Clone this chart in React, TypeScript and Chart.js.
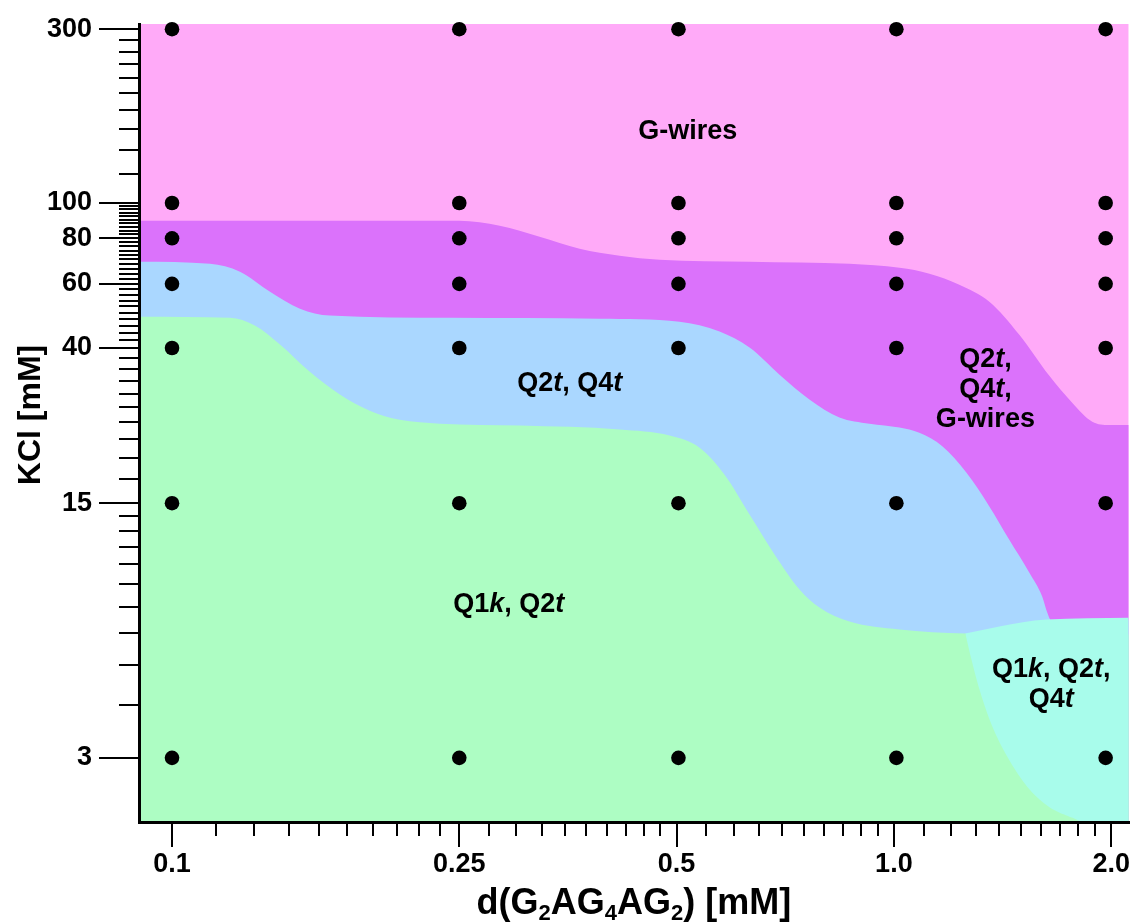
import React, { useEffect, useRef } from 'react';
import { Chart, registerables } from 'chart.js';

Chart.register(...registerables);

const FONT = '"Liberation Sans", Arial, Helvetica, sans-serif';

// ---- axes ----
const X_MAJOR = [0.1, 0.25, 0.5, 1.0, 2.0];
const X_LABELS = ['0.1', '0.25', '0.5', '1.0', '2.0'];
const Y_MAJOR = [3, 15, 40, 60, 80, 100, 300];
const Y_LABELS = ['3', '15', '40', '60', '80', '100', '300'];
const X_MIN = 0.09;
const X_MAX = 2.115;
const Y_MIN = 2.0;
const Y_MAX = 310;

// ---- measured samples (d(G2AG4AG2) mM, KCl mM) ----
const DOT_X = [0.1, 0.25, 0.503, 1.008, 1.965];
const DOT_Y = [3, 15, 40, 60, 80, 100, 300];

// ---- phase boundaries ----
// G-wires (pink) / mixed (purple)
const B1_X = [0.06, 0.09, 0.25, 0.2844, 0.323, 0.367, 0.417, 0.4736, 0.631, 0.868, 1.018, 1.12, 1.232, 1.356, 1.492, 1.641, 1.766, 1.883, 1.987, 2.5];
const B1_Y = [89.4, 89.4, 89.4, 86.6, 80.8, 74.9, 71.7, 69.9, 69.0, 68.1, 66.4, 64.0, 59.7, 53.6, 43.5, 33.6, 28.3, 25.1, 24.6, 24.6];
// mixed (purple) / Q2t,Q4t (blue)
const B2_X = [0.06, 0.09, 0.1129, 0.1242, 0.1367, 0.1504, 0.1654, 0.2425, 0.3913, 0.5047, 0.5735, 0.631, 0.6944, 0.7638, 0.8406, 0.925, 1.018, 1.0846, 1.167, 1.26, 1.356, 1.445, 1.54, 1.605, 1.631, 1.652, 2.115, 2.5];
const B2_Y = [69.0, 69.0, 68.1, 64.8, 57.1, 51.3, 49.1, 48.4, 48.1, 47.2, 44.4, 40.1, 33.8, 28.9, 25.8, 24.8, 24.2, 23.4, 21.5, 18.2, 14.7, 11.9, 9.68, 8.32, 7.52, 7.15, 7.15, 7.15];
// Q2t,Q4t (blue) / Q1k,Q2t (green)
const B3_X = [0.06, 0.09, 0.1203, 0.1302, 0.1411, 0.1552, 0.1708, 0.1879, 0.2068, 0.2349, 0.3032, 0.417, 0.489, 0.5381, 0.5824, 0.631, 0.6834, 0.74, 0.7888, 0.868, 1.018, 1.256, 2.115, 2.5];
const B3_Y = [48.75, 48.75, 48.4, 46.1, 40.9, 34.4, 29.8, 26.9, 25.4, 24.8, 24.5, 23.9, 23.0, 21.3, 17.98, 13.96, 10.85, 8.70, 7.76, 7.10, 6.75, 6.58, 6.54, 6.54];
// Q1k,Q2t,Q4t (cyan) upper and left/lower edges
const C_TOP_X = [1.256, 1.4, 1.626, 2.5];
const C_TOP_Y = [6.58, 6.88, 7.19, 7.29];
const C_BOT_X = [1.256, 1.28, 1.313, 1.364, 1.436, 1.53, 1.641, 1.772, 1.894, 2.5];
const C_BOT_Y = [6.58, 5.61, 4.64, 3.72, 3.02, 2.5, 2.2, 2.05, 1.95, 1.95];
// whole-area background (G-wires above B1)
const TOP_X = [0.06, 2.5];
const TOP_Y = [1000, 1000];

// ---- region labels (*...* = italic) ----
const REGION_LABELS = [
  { x: 0.518, y: 157, text: ['G-wires'] },
  { x: 0.3556, y: 31.9, text: ['Q2*t*, Q4*t*'] },
  { x: 0.2927, y: 7.91, text: ['Q1*k*, Q2*t*'] },
  { x: 1.339, y: 30.7, text: ['Q2*t*,', 'Q4*t*,', 'G-wires'] },
  { x: 1.652, y: 4.77, text: ['Q1*k*, Q2*t*,', 'Q4*t*'] },
];

const PINK = '#FFAAF8';
const PURPLE = '#DB72FB';
const BLUE = '#AAD7FF';
const GREEN = '#ADFDC3';
const CYAN = '#A8FCEB';

function minorTicks(major: number[]): number[] {
  const out: number[] = [];
  for (let i = 0; i < major.length - 1; i++) {
    const a = major[i];
    const b = major[i + 1];
    for (let k = 1; k < 10; k++) out.push(a + ((b - a) * k) / 10);
  }
  return out;
}

function pts(xs: number[], ys: number[]) {
  return xs.map((x, i) => ({ x, y: ys[i] }));
}

function area(data: { x: number; y: number }[], color: string, fill: any, order: number) {
  return {
    data,
    showLine: true,
    fill,
    backgroundColor: color,
    borderColor: 'rgba(0,0,0,0)',
    borderWidth: 0,
    pointRadius: 0,
    cubicInterpolationMode: 'monotone',
    order,
    xAxisID: 'x',
    yAxisID: 'y',
  };
}

function parseRich(s: string): [string, boolean][] {
  return s.split('*').map((t, i) => [t, i % 2 === 1] as [string, boolean]).filter((p) => p[0].length > 0);
}

const LABEL_SIZE = 27;
const LABEL_LH = 30;

const textPlugin = {
  id: 'phaseText',
  afterDatasetsDraw(chart: any) {
    const { ctx, scales } = chart;
    const xs = scales.x;
    const ys = scales.y;
    ctx.save();
    ctx.fillStyle = '#000';
    ctx.textBaseline = 'middle';
    ctx.textAlign = 'left';
    for (const lab of REGION_LABELS) {
      const cx = xs.getPixelForValue(lab.x);
      const cy = ys.getPixelForValue(lab.y);
      const n = lab.text.length;
      lab.text.forEach((line, li) => {
        const ly = cy + (li - (n - 1) / 2) * LABEL_LH;
        const segs = parseRich(line);
        const widths = segs.map(([t, it]) => {
          ctx.font = `${it ? 'italic ' : ''}bold ${LABEL_SIZE}px ${FONT}`;
          return ctx.measureText(t).width;
        });
        const total = widths.reduce((a, b) => a + b, 0);
        let px = cx - total / 2;
        segs.forEach(([t, it], k) => {
          ctx.font = `${it ? 'italic ' : ''}bold ${LABEL_SIZE}px ${FONT}`;
          ctx.fillText(t, px, ly);
          px += widths[k];
        });
      });
    }
    ctx.restore();
  },
  afterDraw(chart: any) {
    const { ctx, chartArea } = chart;
    ctx.save();
    ctx.fillStyle = '#000';
    // x title with subscripts
    const big = `bold 36px ${FONT}`;
    const small = `bold 22px ${FONT}`;
    const segs: [string, boolean][] = [['d(G', false], ['2', true], ['AG', false], ['4', true], ['AG', false], ['2', true], [') [mM]', false]];
    const widths = segs.map(([t, sub]) => {
      ctx.font = sub ? small : big;
      return ctx.measureText(t).width;
    });
    const total = widths.reduce((a, b) => a + b, 0);
    let px = (chartArea.left + chartArea.right) / 2 - total / 2;
    const baseY = chartArea.bottom + 92;
    ctx.textBaseline = 'alphabetic';
    ctx.textAlign = 'left';
    segs.forEach(([t, sub], k) => {
      ctx.font = sub ? small : big;
      ctx.fillText(t, px, sub ? baseY + 6 : baseY);
      px += widths[k];
    });
    // y title
    ctx.translate(31, (chartArea.top + chartArea.bottom) / 2 - 8);
    ctx.rotate(-Math.PI / 2);
    ctx.font = `bold 32px ${FONT}`;
    ctx.textAlign = 'center';
    ctx.textBaseline = 'middle';
    ctx.fillText('KCl [mM]', 0, 0);
    ctx.restore();
  },
};

const tickFont = { family: FONT, size: 27, weight: 'bold' as const };

export default function App() {
  const ref = useRef<HTMLCanvasElement | null>(null);
  useEffect(() => {
    if (!ref.current) return;
    const dots: { x: number; y: number }[] = [];
    DOT_Y.forEach((y) => DOT_X.forEach((x) => dots.push({ x, y })));
    const chart = new Chart(ref.current, {
      type: 'scatter',
      data: {
        datasets: [
          area(pts(TOP_X, TOP_Y), PINK, 'start', 10) as any,
          area(pts(B1_X, B1_Y), PURPLE, 'start', 9) as any,
          area(pts(B2_X, B2_Y), BLUE, 'start', 8) as any,
          area(pts(B3_X, B3_Y), GREEN, 'start', 7) as any,
          area(pts(C_TOP_X, C_TOP_Y), CYAN, 5, 6) as any,
          area(pts(C_BOT_X, C_BOT_Y), CYAN, false, 6) as any,
          {
            data: dots,
            showLine: false,
            pointRadius: 7.3,
            pointBackgroundColor: '#000',
            pointBorderColor: '#000',
            pointBorderWidth: 0,
            order: 0,
            clip: false,
            xAxisID: 'x',
            yAxisID: 'y',
          } as any,
        ],
      },
      options: {
        responsive: false,
        animation: false,
        devicePixelRatio: 1,
        events: [],
        layout: { padding: { left: 0, right: 6, top: 24, bottom: 0 } },
        plugins: { legend: { display: false }, tooltip: { enabled: false }, title: { display: false } },
        scales: {
          x: {
            type: 'logarithmic',
            axis: 'x',
            position: 'bottom',
            min: X_MIN,
            max: X_MAX,
            weight: 1,
            afterBuildTicks: (s: any) => {
              s.ticks = X_MAJOR.map((v) => ({ value: v }));
            },
            afterFit: (s: any) => {
              s.height = 102;
            },
            ticks: {
              autoSkip: false,
              maxRotation: 0,
              minRotation: 0,
              padding: 1,
              color: '#000',
              font: tickFont,
              callback: (_v: any, i: number) => X_LABELS[i],
            },
            grid: { drawOnChartArea: false, drawTicks: true, tickLength: 25, tickWidth: 2, tickColor: '#000', color: '#000', lineWidth: 2 },
            border: { display: true, color: '#000', width: 3, z: 1 },
          },
          xMinor: {
            type: 'logarithmic',
            axis: 'x',
            position: 'bottom',
            min: X_MIN,
            max: X_MAX,
            weight: 0,
            afterBuildTicks: (s: any) => {
              s.ticks = minorTicks(X_MAJOR).map((v) => ({ value: v }));
            },
            afterFit: (s: any) => {
              s.height = 0;
            },
            ticks: { display: false },
            grid: { drawOnChartArea: false, drawTicks: true, tickLength: 14, tickWidth: 2, tickColor: '#000', color: '#000', lineWidth: 2 },
            border: { display: false },
          },
          y: {
            type: 'logarithmic',
            axis: 'y',
            position: 'left',
            min: Y_MIN,
            max: Y_MAX,
            weight: 1,
            afterBuildTicks: (s: any) => {
              s.ticks = Y_MAJOR.map((v) => ({ value: v }));
            },
            afterFit: (s: any) => {
              s.width = 139;
            },
            ticks: {
              autoSkip: false,
              padding: 7,
              color: '#000',
              font: tickFont,
              callback: (_v: any, i: number) => Y_LABELS[i],
            },
            grid: { drawOnChartArea: false, drawTicks: true, tickLength: 40, tickWidth: 2, tickColor: '#000', color: '#000', lineWidth: 2 },
            border: { display: true, color: '#000', width: 3, z: 1 },
          },
          yMinor: {
            type: 'logarithmic',
            axis: 'y',
            position: 'left',
            min: Y_MIN,
            max: Y_MAX,
            weight: 0,
            afterBuildTicks: (s: any) => {
              s.ticks = minorTicks(Y_MAJOR).map((v) => ({ value: v }));
            },
            afterFit: (s: any) => {
              s.width = 0;
            },
            ticks: { display: false },
            grid: { drawOnChartArea: false, drawTicks: true, tickLength: 20, tickWidth: 2, tickColor: '#000', color: '#000', lineWidth: 2 },
            border: { display: false },
          },
        },
      } as any,
      plugins: [textPlugin],
    });
    return () => chart.destroy();
  }, []);
  return (
    <div style={{ position: 'fixed', left: 0, top: 0, width: 1136, height: 924, background: '#fff' }}>
      <canvas ref={ref} width={1136} height={924} style={{ display: 'block' }} />
    </div>
  );
}
